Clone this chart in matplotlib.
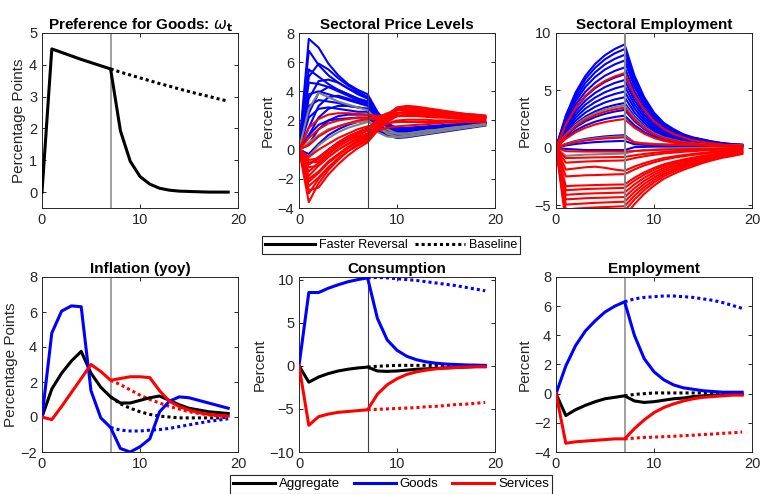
"""
plot.py  —  Faster reversal of goods preference vs baseline (3x2 panel figure)
"""
import numpy as np
import matplotlib
matplotlib.use('Agg')
import matplotlib.pyplot as plt
from matplotlib.lines import Line2D

plt.rcParams['font.family'] = ['Liberation Sans', 'DejaVu Sans']
plt.rcParams['mathtext.fontset'] = 'dejavusans'

# ── Data ─────────────────────────────────────────────────────────────────────
t = np.arange(20)
t_base = np.arange(7, 20)

# preference for goods (omega_t)
omega_fast = [0, 4.5, 4.39, 4.28, 4.17, 4.07, 3.97, 3.87, 1.93, 0.97, 0.49,
              0.25, 0.12, 0.06, 0.03, 0.02, 0.01, 0.0, 0.0, 0.0]
omega_base = [3.87, 3.77, 3.68, 3.59, 3.50, 3.41, 3.33, 3.24, 3.16, 3.08,
              3.01, 2.93, 2.86]

# inflation (yoy)
infl_agg = [0, 1.6, 2.5, 3.2, 3.75, 2.5, 1.7, 1.15, 0.8, 0.8, 0.95, 1.1, 1.2,
            0.95, 0.7, 0.5, 0.4, 0.3, 0.25, 0.2]
infl_goods = [0, 4.8, 6.05, 6.35, 6.3, 1.5, -0.05, -0.6, -1.8, -2.0, -1.7,
              -1.25, 0.3, 0.9, 1.15, 1.1, 0.95, 0.8, 0.65, 0.5]
infl_serv = [0, -0.15, 0.6, 1.4, 2.2, 3.0, 2.6, 2.1, 2.2, 2.3, 2.3, 2.25, 1.5,
             0.9, 0.6, 0.4, 0.25, 0.15, 0.1, 0.05]
infl_agg_base = [1.15, 0.75, 0.5, 0.3, 0.15, 0.05, 0.0, -0.05, -0.05, -0.05,
                 -0.05, -0.05, 0.0]
infl_goods_base = [-0.6, -0.75, -0.8, -0.8, -0.75, -0.72, -0.65, -0.55, -0.45,
                   -0.35, -0.25, -0.18, -0.1]
infl_serv_base = [2.1, 1.85, 1.55, 1.25, 1.0, 0.8, 0.6, 0.45, 0.3, 0.2, 0.12,
                  0.06, 0.03]

# consumption
cons_agg = [0, -1.9, -1.3, -0.9, -0.6, -0.4, -0.25, -0.15, -0.6, -0.65, -0.6,
            -0.5, -0.4, -0.35, -0.3, -0.25, -0.2, -0.15, -0.1, -0.1]
cons_goods = [0, 8.5, 8.5, 9.0, 9.4, 9.75, 10.0, 10.2, 5.5, 3.0, 1.8, 1.1, 0.7,
              0.45, 0.3, 0.2, 0.15, 0.1, 0.08, 0.05]
cons_serv = [0, -6.9, -5.9, -5.6, -5.4, -5.3, -5.2, -5.1, -3.3, -2.2, -1.5,
             -1.0, -0.7, -0.5, -0.35, -0.25, -0.2, -0.15, -0.1, -0.1]
cons_agg_base = [-0.15, -0.05, 0.0, 0.05, 0.05, 0.05, 0.05, 0.05, 0.05, 0.03,
                 0.02, 0.01, 0.0]
cons_goods_base = [10.2, 10.25, 10.2, 10.1, 10.0, 9.9, 9.75, 9.6, 9.45, 9.3,
                   9.1, 8.9, 8.7]
cons_serv_base = [-5.1, -5.05, -5.0, -4.95, -4.9, -4.85, -4.75, -4.7, -4.6,
                  -4.5, -4.45, -4.35, -4.25]

# employment
emp_agg = [0, -1.5, -1.1, -0.8, -0.55, -0.35, -0.25, -0.15, -0.5, -0.6, -0.55,
           -0.45, -0.35, -0.3, -0.2, -0.15, -0.1, -0.1, -0.05, -0.05]
emp_goods = [0, 1.9, 3.3, 4.3, 5.0, 5.6, 6.0, 6.3, 4.0, 2.4, 1.5, 0.95, 0.6,
             0.4, 0.3, 0.2, 0.15, 0.1, 0.1, 0.1]
emp_serv = [0, -3.4, -3.3, -3.25, -3.2, -3.15, -3.1, -3.1, -2.4, -1.8, -1.3,
            -0.95, -0.7, -0.5, -0.35, -0.25, -0.2, -0.15, -0.1, -0.1]
emp_agg_base = [-0.15, -0.05, 0.0, 0.05, 0.05, 0.05, 0.05, 0.05, 0.05, 0.05,
                0.03, 0.02, 0.01]
emp_goods_base = [6.3, 6.5, 6.6, 6.65, 6.7, 6.7, 6.65, 6.6, 6.5, 6.4, 6.25,
                  6.05, 5.85]
emp_serv_base = [-3.1, -3.05, -3.0, -2.98, -2.95, -2.92, -2.88, -2.85, -2.8,
                 -2.77, -2.72, -2.68, -2.63]

# sectoral price levels (faster reversal), one row per sector
price_goods = [
    [0, 7.6, 7.0, 5.9, 5.1, 4.5, 4.1, 3.8, 2.6, 1.8, 1.5, 1.5, 1.55, 1.6, 1.65, 1.7, 1.75, 1.8, 1.85, 1.9],
    [0, 5.0, 5.9, 5.5, 4.9, 4.4, 4.0, 3.6, 2.5, 1.8, 1.4, 1.4, 1.45, 1.5, 1.55, 1.6, 1.7, 1.75, 1.8, 1.85],
    [0, 3.5, 4.7, 4.8, 4.6, 4.2, 3.8, 3.5, 2.4, 1.7, 1.3, 1.3, 1.35, 1.45, 1.5, 1.6, 1.65, 1.7, 1.8, 1.85],
    [0, 4.6, 4.5, 4.3, 4.0, 3.7, 3.4, 3.2, 2.3, 1.6, 1.3, 1.3, 1.35, 1.4, 1.5, 1.55, 1.65, 1.7, 1.75, 1.8],
    [0, 2.5, 3.9, 4.3, 4.1, 3.8, 3.5, 3.3, 2.3, 1.6, 1.2, 1.2, 1.3, 1.35, 1.45, 1.5, 1.6, 1.65, 1.75, 1.8],
    [0, 3.8, 4.0, 3.8, 3.6, 3.4, 3.2, 3.0, 2.2, 1.5, 1.2, 1.2, 1.25, 1.35, 1.4, 1.5, 1.6, 1.65, 1.7, 1.8],
    [0, 1.5, 3.0, 3.6, 3.7, 3.5, 3.3, 3.1, 2.2, 1.5, 1.1, 1.1, 1.2, 1.3, 1.4, 1.45, 1.55, 1.65, 1.7, 1.8],
    [0, 3.0, 3.4, 3.3, 3.2, 3.0, 2.9, 2.8, 2.1, 1.4, 1.1, 1.1, 1.2, 1.3, 1.35, 1.45, 1.55, 1.6, 1.7, 1.75],
    [0, 1.0, 2.2, 2.8, 3.0, 3.0, 2.9, 2.8, 2.0, 1.3, 1.0, 1.0, 1.1, 1.2, 1.3, 1.4, 1.5, 1.6, 1.7, 1.75],
    [0, 2.2, 2.8, 2.9, 2.8, 2.7, 2.6, 2.6, 1.9, 1.2, 0.9, 0.95, 1.05, 1.15, 1.25, 1.35, 1.45, 1.55, 1.65, 1.75],
    [0, 0.4, 1.4, 2.0, 2.3, 2.4, 2.4, 2.4, 1.8, 1.1, 0.85, 0.9, 1.0, 1.1, 1.2, 1.3, 1.4, 1.5, 1.6, 1.7],
    [0, -0.3, 0.4, 1.0, 1.4, 1.7, 1.9, 2.0, 1.6, 1.0, 0.8, 0.85, 0.95, 1.05, 1.15, 1.25, 1.35, 1.45, 1.55, 1.65],
    [0, -1.0, -0.6, 0.0, 0.5, 0.9, 1.2, 1.4, 1.3, 1.0, 0.9, 0.95, 1.05, 1.15, 1.25, 1.35, 1.45, 1.5, 1.6, 1.7],
    [0, 1.0, 1.7, 2.0, 2.1, 2.15, 2.2, 2.2, 1.7, 1.2, 1.0, 1.0, 1.1, 1.2, 1.3, 1.4, 1.5, 1.55, 1.65, 1.75],
    [0, 5.5, 5.0, 4.5, 4.1, 3.8, 3.5, 3.3, 2.4, 1.7, 1.35, 1.35, 1.4, 1.5, 1.55, 1.6, 1.7, 1.75, 1.8, 1.85],
    [0, 6.8, 5.8, 5.1, 4.6, 4.2, 3.9, 3.6, 2.5, 1.7, 1.4, 1.4, 1.45, 1.55, 1.6, 1.65, 1.7, 1.75, 1.8, 1.9],
]
price_mixed = [
    [0, 2.8, 3.9, 3.6, 3.3, 3.1, 2.9, 2.7, 2.0, 1.4, 1.1, 1.1, 1.2, 1.3, 1.35, 1.45, 1.55, 1.6, 1.7, 1.75],
    [0, -0.8, -0.9, -0.3, 0.3, 0.8, 1.1, 1.3, 1.2, 0.9, 0.85, 0.9, 1.0, 1.1, 1.2, 1.3, 1.4, 1.5, 1.6, 1.7],
    [0, 0.5, 1.0, 1.4, 1.6, 1.8, 1.9, 2.0, 1.6, 1.1, 0.9, 0.95, 1.05, 1.15, 1.25, 1.35, 1.45, 1.55, 1.6, 1.7],
    [0, -0.5, 0.3, 0.8, 1.2, 1.5, 1.7, 1.9, 1.6, 1.2, 1.1, 1.1, 1.2, 1.3, 1.35, 1.45, 1.5, 1.6, 1.65, 1.75],
]
price_serv = [
    [0, -3.6, -2.3, -1.4, -0.7, -0.1, 0.35, 0.7, 1.6, 2.3, 2.7, 2.8, 2.75, 2.65, 2.6, 2.5, 2.45, 2.4, 2.35, 2.3],
    [0, -2.5, -1.9, -1.2, -0.6, -0.1, 0.3, 0.7, 1.5, 2.1, 2.5, 2.6, 2.55, 2.5, 2.45, 2.4, 2.35, 2.3, 2.25, 2.2],
    [0, -2.2, -1.6, -0.9, -0.4, 0.1, 0.5, 0.8, 1.6, 2.3, 2.8, 2.95, 2.9, 2.8, 2.7, 2.6, 2.5, 2.45, 2.4, 2.35],
    [0, -1.8, -1.1, -0.5, 0.0, 0.4, 0.7, 1.0, 1.7, 2.4, 2.9, 3.0, 2.95, 2.85, 2.75, 2.65, 2.55, 2.45, 2.4, 2.3],
    [0, -1.5, -0.9, -0.3, 0.2, 0.6, 0.9, 1.1, 1.6, 2.0, 2.3, 2.35, 2.35, 2.3, 2.25, 2.2, 2.15, 2.15, 2.1, 2.1],
    [0, -1.2, -1.1, -0.5, 0.0, 0.4, 0.8, 1.1, 1.5, 1.8, 2.0, 2.05, 2.05, 2.05, 2.0, 2.0, 2.0, 2.0, 2.0, 2.0],
    [0, -0.9, -0.8, -0.2, 0.3, 0.7, 1.0, 1.3, 1.8, 2.2, 2.5, 2.55, 2.5, 2.45, 2.4, 2.35, 2.3, 2.25, 2.2, 2.2],
    [0, -2.0, -1.5, -0.8, -0.3, 0.2, 0.6, 0.9, 1.3, 1.5, 1.6, 1.65, 1.7, 1.75, 1.8, 1.85, 1.85, 1.9, 1.9, 1.9],
    [0, -0.7, -0.6, 0.0, 0.5, 0.9, 1.2, 1.5, 2.0, 2.4, 2.7, 2.75, 2.7, 2.6, 2.55, 2.45, 2.4, 2.35, 2.3, 2.25],
    [0, 0.3, 0.9, 1.3, 1.6, 1.8, 2.0, 2.1, 2.1, 2.2, 2.3, 2.3, 2.3, 2.25, 2.2, 2.2, 2.15, 2.1, 2.1, 2.1],
    [0, 1.5, 2.1, 2.4, 2.5, 2.5, 2.45, 2.4, 2.3, 2.4, 2.5, 2.5, 2.45, 2.4, 2.35, 2.3, 2.3, 2.25, 2.2, 2.2],
    [0, 0.8, 1.4, 1.8, 2.0, 2.1, 2.2, 2.2, 2.2, 2.5, 2.7, 2.7, 2.65, 2.6, 2.5, 2.45, 2.4, 2.35, 2.3, 2.25],
    [0, -0.5, 0.0, 0.4, 0.8, 1.1, 1.4, 1.6, 1.7, 1.8, 1.9, 1.9, 1.9, 1.9, 1.9, 1.9, 1.95, 1.95, 1.95, 1.95],
    [0, -3.0, -2.0, -1.2, -0.6, -0.1, 0.3, 0.6, 1.4, 2.0, 2.45, 2.6, 2.6, 2.55, 2.5, 2.45, 2.4, 2.35, 2.3, 2.25],
    [0, -1.0, -0.5, 0.0, 0.4, 0.8, 1.1, 1.3, 1.9, 2.4, 2.75, 2.85, 2.8, 2.7, 2.6, 2.55, 2.45, 2.4, 2.35, 2.3],
    [0, -2.8, -2.6, -1.7, -1.0, -0.4, 0.1, 0.5, 1.3, 1.9, 2.3, 2.4, 2.4, 2.35, 2.3, 2.3, 2.25, 2.2, 2.2, 2.15],
]

# sectoral employment (faster reversal), one row per sector
emp_sec_goods = [
    [0, 2.8, 4.82, 6.27, 7.31, 8.07, 8.61, 9.0, 6.3, 4.41, 3.06, 2.16, 1.62, 1.17, 0.9, 0.72, 0.54, 0.41, 0.32, 0.27],
    [0, 2.67, 4.61, 5.99, 6.98, 7.71, 8.23, 8.6, 6.02, 4.21, 2.92, 2.06, 1.55, 1.12, 0.86, 0.69, 0.52, 0.39, 0.3, 0.26],
    [0, 2.52, 4.34, 5.65, 6.58, 7.27, 7.75, 8.1, 5.67, 3.97, 2.75, 1.94, 1.46, 1.05, 0.81, 0.65, 0.49, 0.36, 0.28, 0.24],
    [0, 2.36, 4.07, 5.3, 6.17, 6.82, 7.27, 7.6, 5.32, 3.72, 2.58, 1.82, 1.37, 0.99, 0.76, 0.61, 0.46, 0.34, 0.27, 0.23],
    [0, 2.18, 3.75, 4.88, 5.68, 6.28, 6.7, 7.0, 4.9, 3.43, 2.38, 1.68, 1.26, 0.91, 0.7, 0.56, 0.42, 0.32, 0.25, 0.21],
    [0, 1.99, 3.43, 4.46, 5.2, 5.74, 6.12, 6.4, 4.48, 3.14, 2.18, 1.54, 1.15, 0.83, 0.64, 0.51, 0.38, 0.29, 0.22, 0.19],
    [0, 1.83, 3.16, 4.11, 4.79, 5.29, 5.65, 5.9, 4.13, 2.89, 2.01, 1.42, 1.06, 0.77, 0.59, 0.47, 0.35, 0.27, 0.21, 0.18],
    [0, 1.68, 2.89, 3.76, 4.38, 4.84, 5.17, 5.4, 3.78, 2.65, 1.84, 1.3, 0.97, 0.7, 0.54, 0.43, 0.32, 0.24, 0.19, 0.16],
    [0, 1.52, 2.63, 3.42, 3.98, 4.4, 4.69, 4.9, 3.43, 2.4, 1.67, 1.18, 0.88, 0.64, 0.49, 0.39, 0.29, 0.22, 0.17, 0.15],
    [0, 1.37, 2.36, 3.07, 3.57, 3.95, 4.21, 4.4, 3.08, 2.16, 1.5, 1.06, 0.79, 0.57, 0.44, 0.35, 0.26, 0.2, 0.15, 0.13],
    [0, 1.21, 2.09, 2.72, 3.17, 3.5, 3.73, 3.9, 2.73, 1.91, 1.33, 0.94, 0.7, 0.51, 0.39, 0.31, 0.23, 0.18, 0.14, 0.12],
    [0, 1.03, 1.77, 2.3, 2.68, 2.96, 3.16, 3.3, 2.31, 1.62, 1.12, 0.79, 0.59, 0.43, 0.33, 0.26, 0.2, 0.15, 0.12, 0.1],
    [0, 0.87, 1.5, 1.95, 2.27, 2.51, 2.68, 2.8, 1.96, 1.37, 0.95, 0.67, 0.5, 0.36, 0.28, 0.22, 0.17, 0.13, 0.1, 0.08],
    [0, 0.34, 0.59, 0.77, 0.89, 0.99, 1.05, 1.1, 0.45, 0.35, 0.3, 0.27, 0.25, 0.23, 0.22, 0.21, 0.2, 0.2, 0.2, 0.2],
    [0, 0.2, 0.33, 0.42, 0.49, 0.54, 0.57, 0.6, 0.3, 0.25, 0.22, 0.2, 0.2, 0.19, 0.19, 0.18, 0.18, 0.18, 0.18, 0.18],
    [0, -0.1, -0.15, -0.2, -0.2, -0.2, -0.2, -0.2, 0.05, 0.08, 0.1, 0.1, 0.1, 0.1, 0.1, 0.1, 0.1, 0.1, 0.1, 0.1],
]
emp_sec_mixed = [
    [0, 1.15, 1.98, 2.58, 3.0, 3.32, 3.54, 3.7, 2.59, 1.81, 1.26, 0.89, 0.67, 0.48, 0.37, 0.3, 0.22, 0.17, 0.13, 0.11],
    [0, 0.31, 0.54, 0.7, 0.81, 0.9, 0.96, 1.0, 0.5, 0.4, 0.35, 0.3, 0.28, 0.26, 0.25, 0.24, 0.23, 0.22, 0.22, 0.22],
    [0, -0.7, -0.65, -0.6, -0.58, -0.55, -0.53, -0.5, -0.3, -0.2, -0.15, -0.12, -0.1, -0.08, -0.06, -0.05, -0.04, -0.03, -0.03, -0.03],
]
emp_sec_serv = [
    [0, 2.02, 3.48, 4.53, 5.28, 5.83, 6.22, 6.5, 4.6, 3.3, 2.3, 1.65, 1.2, 0.9, 0.65, 0.5, 0.38, 0.28, 0.2, 0.15],
    [0, 1.09, 1.88, 2.44, 2.84, 3.14, 3.35, 3.5, 2.45, 1.72, 1.19, 0.84, 0.63, 0.46, 0.35, 0.28, 0.21, 0.16, 0.12, 0.1],
    [0, 0.78, 1.34, 1.74, 2.03, 2.24, 2.39, 2.5, 1.75, 1.23, 0.85, 0.6, 0.45, 0.33, 0.25, 0.2, 0.15, 0.11, 0.09, 0.07],
    [0, 0.28, 0.48, 0.63, 0.73, 0.81, 0.86, 0.9, 0.45, 0.35, 0.3, 0.27, 0.25, 0.23, 0.22, 0.21, 0.2, 0.2, 0.2, 0.2],
    [0, -0.3, -0.32, -0.33, -0.33, -0.33, -0.33, -0.33, -0.28, -0.24, -0.2, -0.17, -0.15, -0.13, -0.11, -0.1, -0.09, -0.08, -0.07, -0.06],
    [0, -0.9, -0.88, -0.86, -0.84, -0.83, -0.81, -0.8, -0.66, -0.54, -0.44, -0.36, -0.3, -0.26, -0.22, -0.18, -0.14, -0.12, -0.1, -0.07],
    [0, -1.3, -1.25, -1.2, -1.17, -1.14, -1.12, -1.1, -0.9, -0.74, -0.61, -0.5, -0.42, -0.35, -0.3, -0.24, -0.2, -0.16, -0.13, -0.1],
    [0, -1.9, -1.8, -1.7, -1.65, -1.75, -1.9, -2.0, -1.64, -1.34, -1.1, -0.9, -0.76, -0.64, -0.54, -0.44, -0.36, -0.29, -0.24, -0.18],
    [0, -2.5, -2.45, -2.4, -2.38, -2.35, -2.32, -2.3, -1.89, -1.54, -1.27, -1.04, -0.87, -0.74, -0.62, -0.51, -0.41, -0.33, -0.28, -0.21],
    [0, -3.35, -3.3, -3.28, -3.25, -3.23, -3.21, -3.2, -2.62, -2.14, -1.76, -1.44, -1.22, -1.02, -0.86, -0.7, -0.58, -0.46, -0.38, -0.29],
    [0, -3.7, -3.65, -3.6, -3.57, -3.55, -3.52, -3.5, -2.87, -2.35, -1.93, -1.58, -1.33, -1.12, -0.95, -0.77, -0.63, -0.51, -0.42, -0.32],
    [0, -4.1, -4.05, -4.0, -3.97, -3.95, -3.92, -3.9, -3.2, -2.61, -2.15, -1.76, -1.48, -1.25, -1.05, -0.86, -0.7, -0.57, -0.47, -0.35],
    [0, -4.5, -4.45, -4.4, -4.37, -4.35, -4.32, -4.3, -3.53, -2.88, -2.37, -1.94, -1.63, -1.38, -1.16, -0.95, -0.77, -0.62, -0.52, -0.39],
    [0, -4.95, -4.9, -4.85, -4.8, -4.77, -4.73, -4.7, -3.85, -3.15, -2.59, -2.12, -1.79, -1.5, -1.27, -1.03, -0.85, -0.68, -0.56, -0.42],
    [0, -5.4, -5.3, -5.25, -5.2, -5.17, -5.13, -5.1, -4.18, -3.42, -2.81, -2.3, -1.94, -1.63, -1.38, -1.12, -0.92, -0.74, -0.61, -0.46],
    [0, -5.9, -5.8, -5.7, -5.65, -5.6, -5.55, -5.5, -4.51, -3.69, -3.03, -2.48, -2.09, -1.76, -1.49, -1.21, -0.99, -0.8, -0.66, -0.5],
    [0, -6.5, -6.4, -6.3, -6.2, -6.15, -6.05, -6.0, -4.92, -4.02, -3.3, -2.7, -2.28, -1.92, -1.62, -1.32, -1.08, -0.87, -0.72, -0.54],
]

# ── Style ────────────────────────────────────────────────────────────────────
C_AGG   = 'black'
C_GOODS = '#0000FF'
C_SERV  = '#FF0000'
C_MIX   = '#808080'
AX_COL  = '#262626'
LW      = 2.2
LW_SEC  = 1.5
DOT     = (0, (1, 1))

fig = plt.figure(figsize=(7.6, 4.94), dpi=100)
lefts = [42 / 760, 299 / 760, 556 / 760]
W, H = 196 / 760, 175 / 494
bot_top, bot_bottom = 1 - 208 / 494, 1 - 452 / 494


def style_axis(ax, ylim, yticks, ylabel, title):
    ax.set_xlim(0, 20)
    ax.set_xticks([0, 10, 20])
    ax.set_ylim(*ylim)
    ax.set_yticks(yticks)
    ax.tick_params(direction='in', top=True, right=True, length=3,
                   labelsize=10.5, colors=AX_COL, width=0.7)
    for s in ax.spines.values():
        s.set_color(AX_COL)
        s.set_linewidth(0.7)
    ax.set_ylabel(ylabel, fontsize=11, color=AX_COL, labelpad=2)
    ax.set_title(title, fontsize=11, fontweight='bold', pad=3)


def vline(ax, color='#999999', lw=1.3, z=1):
    ax.axvline(7, color=color, lw=lw, zorder=z)


# ── Panel 1: preference for goods ────────────────────────────────────────────
ax1 = fig.add_axes([lefts[0], bot_top, W, H])
vline(ax1)
ax1.plot(t, omega_fast, color=C_AGG, lw=LW, zorder=3)
ax1.plot(t_base, omega_base, color=C_AGG, lw=LW, ls=DOT, zorder=3)
style_axis(ax1, (-0.5, 5), range(0, 6), 'Percentage Points',
           r'Preference for Goods: $\omega_\mathbf{t}$')

# ── Panel 2: sectoral price levels ───────────────────────────────────────────
ax2 = fig.add_axes([lefts[1], bot_top, W, H])
for row in price_goods:
    ax2.plot(t, row, color=C_GOODS, lw=LW_SEC)
for row in price_mixed:
    ax2.plot(t, row, color=C_MIX, lw=LW_SEC)
for row in price_serv:
    ax2.plot(t, row, color=C_SERV, lw=LW_SEC)
vline(ax2, color='#404040', lw=0.8, z=5)
style_axis(ax2, (-4, 8), range(-4, 9, 2), 'Percent', 'Sectoral Price Levels')

# ── Panel 3: sectoral employment ─────────────────────────────────────────────
ax3 = fig.add_axes([lefts[2], bot_top, W, H])
for row in emp_sec_goods:
    ax3.plot(t, row, color=C_GOODS, lw=LW_SEC)
for row in emp_sec_mixed:
    ax3.plot(t, row, color=C_MIX, lw=LW_SEC)
for row in emp_sec_serv:
    ax3.plot(t, row, color=C_SERV, lw=LW_SEC)
vline(ax3, color='#888888', lw=1.5, z=5)
style_axis(ax3, (-5.25, 10), [-5, 0, 5, 10], 'Percent', 'Sectoral Employment')


def macro_panel(ax, agg, goods, serv, agg_b, goods_b, serv_b):
    for yb, c in [(agg_b, C_AGG), (goods_b, C_GOODS), (serv_b, C_SERV)]:
        ax.plot(t_base, yb, color=c, lw=LW, ls=DOT, zorder=3)
    for y, c in [(agg, C_AGG), (goods, C_GOODS), (serv, C_SERV)]:
        ax.plot(t, y, color=c, lw=LW, zorder=3)


# ── Panel 4: inflation ───────────────────────────────────────────────────────
ax4 = fig.add_axes([lefts[0], bot_bottom, W, H])
vline(ax4)
macro_panel(ax4, infl_agg, infl_goods, infl_serv,
            infl_agg_base, infl_goods_base, infl_serv_base)
style_axis(ax4, (-2, 8), range(-2, 9, 2), 'Percentage Points', 'Inflation (yoy)')

# ── Panel 5: consumption ─────────────────────────────────────────────────────
ax5 = fig.add_axes([lefts[1], bot_bottom, W, H])
vline(ax5, color='#404040', lw=0.8)
macro_panel(ax5, cons_agg, cons_goods, cons_serv,
            cons_agg_base, cons_goods_base, cons_serv_base)
style_axis(ax5, (-10, 10.3), [-10, -5, 0, 5, 10], 'Percent', 'Consumption')

# ── Panel 6: employment ──────────────────────────────────────────────────────
ax6 = fig.add_axes([lefts[2], bot_bottom, W, H])
vline(ax6)
macro_panel(ax6, emp_agg, emp_goods, emp_serv,
            emp_agg_base, emp_goods_base, emp_serv_base)
style_axis(ax6, (-4, 8), range(-4, 9, 2), 'Percent', 'Employment')

# ── Legends ──────────────────────────────────────────────────────────────────
leg_kw = dict(frameon=True, fancybox=False, framealpha=1, edgecolor=AX_COL,
              borderpad=0.25, handletextpad=0.3, borderaxespad=0,
              handleheight=0.6)
h1 = [Line2D([], [], color='black', lw=LW),
      Line2D([], [], color='black', lw=LW, ls=DOT)]
lg1 = fig.legend(h1, ['Faster Reversal', 'Baseline'], ncol=2, fontsize=9,
                 loc='center', bbox_to_anchor=(391 / 760, 1 - 245 / 494),
                 handlelength=4.0, columnspacing=0.6, **leg_kw)
lg1.get_frame().set_linewidth(0.8)

h2 = [Line2D([], [], color=c, lw=LW) for c in (C_AGG, C_GOODS, C_SERV)]
lg2 = fig.legend(h2, ['Aggregate', 'Goods', 'Services'], ncol=3, fontsize=9.5,
                 loc='upper center', bbox_to_anchor=(391 / 760, 1 - 475 / 494),
                 handlelength=3.2, columnspacing=1.0, **leg_kw)
lg2.get_frame().set_linewidth(0.8)

fig.savefig('out.png', dpi=100)
